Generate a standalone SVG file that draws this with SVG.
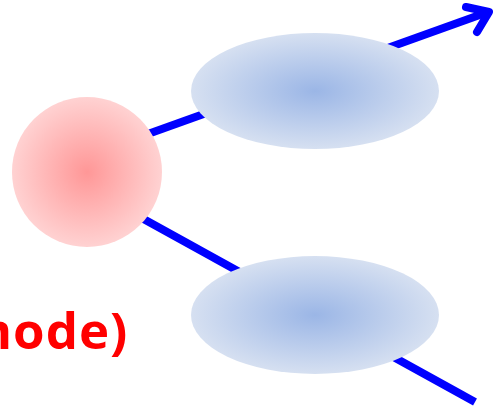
<svg xmlns="http://www.w3.org/2000/svg" width="493" height="409" viewBox="0 0 493 409">
  <defs>
    <radialGradient id="gRed" cx="0.5" cy="0.5" r="0.5">
      <stop offset="0" stop-color="#ff9797"/>
      <stop offset="1" stop-color="#ffd2d2"/>
    </radialGradient>
    <radialGradient id="gBlue" cx="0.5" cy="0.5" r="0.5">
      <stop offset="0" stop-color="#9bb6e6"/>
      <stop offset="1" stop-color="#d6e0f1"/>
    </radialGradient>
  </defs>
  <style>
    .edge { fill: none; stroke: #0000ff; stroke-width: 8; stroke-linecap: butt; }
    .head { fill: none; stroke: #0000ff; stroke-width: 8; stroke-linecap: round; stroke-linejoin: round; }
    .label { font-family: "Open Sans", "Liberation Sans", sans-serif; font-weight: bold; font-size: 51px; letter-spacing: 1px; fill: #ff0000; }
  </style>
  <g id="connectors">
    <line class="edge" x1="120" y1="144" x2="488" y2="12"/>
    <polyline class="head" points="466,7 489,12 477,32"/>
    <line class="edge" x1="120" y1="206" x2="475" y2="402"/>
  </g>
  <g id="source">
    <circle cx="87" cy="172" r="75" fill="url(#gRed)"/>
  </g>
  <g id="upper">
    <ellipse cx="315" cy="91" rx="124" ry="58" fill="url(#gBlue)"/>
  </g>
  <g id="lower">
    <ellipse cx="315" cy="315" rx="124" ry="59" fill="url(#gBlue)"/>
  </g>
  <text class="label" x="-38" y="349">mode)</text>
</svg>
